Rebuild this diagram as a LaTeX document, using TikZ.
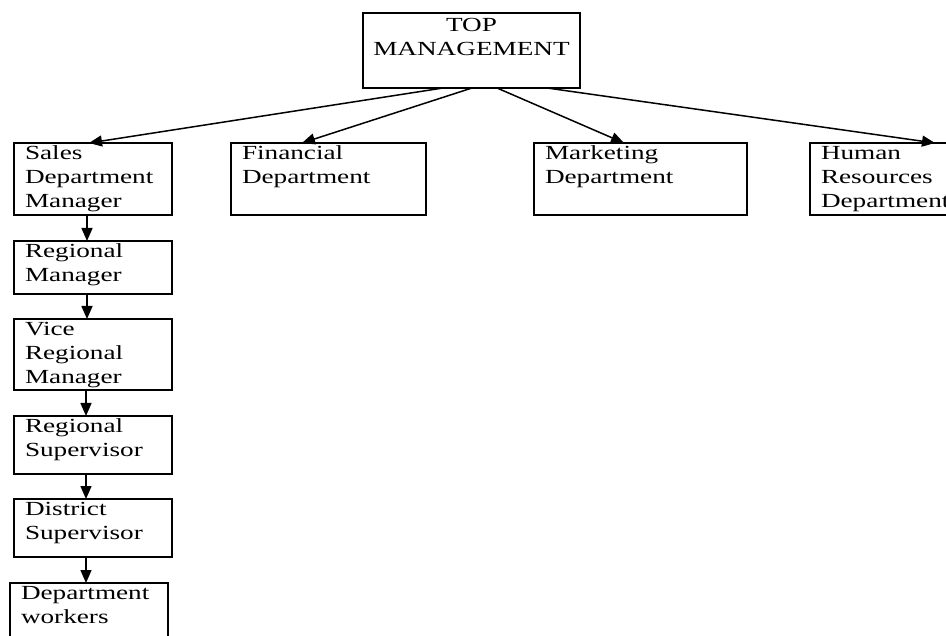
\documentclass[tikz,border=0pt]{standalone}
\usepackage{fontspec}
\setmainfont{Liberation Serif}[FakeStretch=1.36]
\usetikzlibrary{arrows.meta}

% box contents: width, height, text (set from the top edge)
\newcommand{\cellleft}[3]{\parbox[c][#2][t]{#1}{\raggedright\leftskip=11pt\strut #3}}
\newcommand{\cellmid}[3]{\parbox[c][#2][t]{#1}{\centering\rule{0pt}{19pt}#3}}

\begin{document}
\begin{tikzpicture}[x=1pt, y=-1pt,
  orgbox/.style={draw, line width=1.7pt, inner sep=0pt, outer sep=0pt,
    anchor=north west, font=\fontsize{20}{24}\selectfont},
  link/.style={line width=1.5pt, -{Triangle[length=13pt,width=11pt]}}]
\useasboundingbox (0,0) rectangle (946,636);
\clip (0,0) rectangle (946,636);

% top level
\node[orgbox] (top) at (363,13) {\cellmid{217pt}{75pt}{TOP\\MANAGEMENT}};

% departments
\node[orgbox] (sales) at (14,143) {\cellleft{158pt}{72pt}{Sales\\Department\\Manager}};
\node[orgbox] (fin) at (231,143) {\cellleft{195pt}{72pt}{Financial\\Department}};
\node[orgbox] (mkt) at (534,143) {\cellleft{213pt}{72pt}{Marketing\\Department}};
\node[orgbox] (hr) at (810,143) {\cellleft{170pt}{72pt}{Human\\Resources\\Department}};

% sales chain
\node[orgbox] (regman) at (14,241) {\cellleft{158pt}{53pt}{Regional\\Manager}};
\node[orgbox] (vice) at (14,319) {\cellleft{158pt}{71pt}{Vice\\Regional\\Manager}};
\node[orgbox] (regsup) at (14,416) {\cellleft{158pt}{58pt}{Regional\\Supervisor}};
\node[orgbox] (dissup) at (14,499) {\cellleft{158pt}{58pt}{District\\Supervisor}};
\node[orgbox] (workers) at (10,583) {\cellleft{158pt}{80pt}{Department\\workers}};

% connectors from top management
\draw[link] ([xshift=80pt]top.south west) -- ([xshift=75pt]sales.north west);
\draw[link] ([xshift=109pt]top.south west) -- ([xshift=71pt]fin.north west);
\draw[link] ([xshift=134pt]top.south west) -- ([xshift=90pt]mkt.north west);
\draw[link] ([xshift=184pt]top.south west) -- ([xshift=125pt]hr.north west);

% vertical chain
\draw[link] ([xshift=73pt]sales.south west) -- ([xshift=73pt]regman.north west);
\draw[link] ([xshift=73pt]regman.south west) -- ([xshift=73pt]vice.north west);
\draw[link] ([xshift=72pt]vice.south west) -- ([xshift=72pt]regsup.north west);
\draw[link] ([xshift=72pt]regsup.south west) -- ([xshift=72pt]dissup.north west);
\draw[link] ([xshift=72pt]dissup.south west) -- ([xshift=76pt]workers.north west);
\end{tikzpicture}
\end{document}
